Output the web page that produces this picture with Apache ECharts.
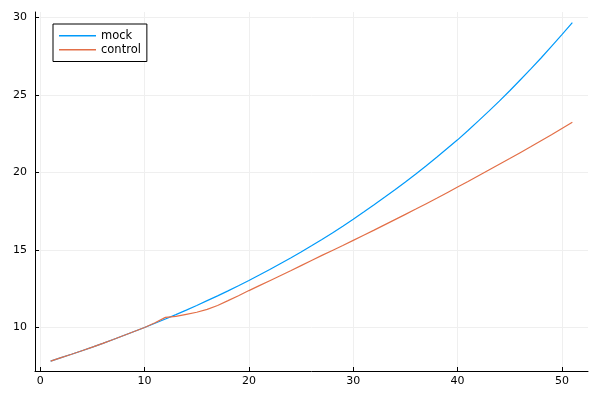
<!DOCTYPE html>
<html>
<head>
<meta charset="utf-8">
<script src="https://cdn.jsdelivr.net/npm/echarts@6/dist/echarts.min.js"></script>
<style>html,body{margin:0;padding:0;background:#fff}#c{width:600px;height:400px}</style>
</head>
<body>
<div id="c"></div>
<script>
const xValues = [1,2,3,4,5,6,7,8,9,10,11,12,13,14,15,16,17,18,19,20,21,22,23,24,25,26,27,28,29,30,31,32,33,34,35,36,37,38,39,40,41,42,43,44,45,46,47,48,49,50,51];
const mock = [7.83,8.05,8.27,8.50,8.73,8.97,9.22,9.48,9.74,10.0,10.27,10.55,10.83,11.12,11.42,11.73,12.04,12.36,12.69,13.03,13.38,13.74,14.11,14.48,14.87,15.27,15.68,16.1,16.54,16.99,17.45,17.92,18.4,18.89,19.39,19.91,20.44,20.99,21.55,22.11,22.71,23.33,23.96,24.61,25.28,25.97,26.67,27.39,28.14,28.9,29.68];
const control = [7.83,8.05,8.27,8.50,8.73,8.97,9.22,9.48,9.74,10.0,10.3,10.65,10.72,10.85,10.98,11.17,11.42,11.73,12.05,12.38,12.7,13.02,13.34,13.66,13.99,14.32,14.65,14.97,15.29,15.62,15.95,16.28,16.62,16.96,17.3,17.64,17.99,18.34,18.7,19.06,19.42,19.79,20.16,20.53,20.9,21.28,21.66,22.05,22.44,22.84,23.24];
const xTicks = [0,10,20,30,40,50];
const yTicks = [10,15,20,25,30];
const seriesNames = ['mock','control'];

const font = 'DejaVu Sans';
const chart = echarts.init(document.getElementById('c'), null, {renderer:'canvas'});
const pair = (ys) => xValues.map((x,i)=>[x, ys[i]]);
const axisCommon = {
  axisLine:{show:true, onZero:false, lineStyle:{color:'#000', width:1}},
  axisTick:{show:true, inside:true, length:4, lineStyle:{color:'#000', width:1}},
  splitLine:{show:true, lineStyle:{color:'#efefef', width:1}},
  axisLabel:{color:'#000', fontSize:11, fontFamily:font}
};
chart.setOption({
  animation:false,
  backgroundColor:'#fff',
  grid:{left:35, right:12, top:12, bottom:29, containLabel:false},
  xAxis:{type:'value', min:-0.5, max:52.5,
    axisLine:axisCommon.axisLine,
    axisTick:Object.assign({}, axisCommon.axisTick, {customValues:xTicks}),
    splitLine:axisCommon.splitLine,
    axisLabel:Object.assign({}, axisCommon.axisLabel, {customValues:xTicks, margin:5})
  },
  yAxis:{type:'value', min:7.19, max:30.36,
    axisLine:axisCommon.axisLine,
    axisTick:Object.assign({}, axisCommon.axisTick, {customValues:yTicks}),
    splitLine:axisCommon.splitLine,
    axisLabel:Object.assign({}, axisCommon.axisLabel, {customValues:yTicks, margin:8})
  },
  legend:{
    orient:'vertical', left:53, top:24,
    padding:[5,6,5,6], itemGap:0.5, itemWidth:37, itemHeight:1.3,
    icon:'rect',
    borderColor:'#000', borderWidth:1, backgroundColor:'#fff',
    textStyle:{color:'#000', fontSize:11.5, fontFamily:font, lineHeight:13.5},
    data:seriesNames
  },
  series:[
    {name:seriesNames[0], type:'line', data:pair(mock), symbol:'none', lineStyle:{color:'#009AFA', width:1.2}, itemStyle:{color:'#009AFA'}},
    {name:seriesNames[1], type:'line', data:pair(control), symbol:'none', lineStyle:{color:'#E36F47', width:1.2}, itemStyle:{color:'#E36F47'}}
  ]
});
</script>
</body>
</html>
